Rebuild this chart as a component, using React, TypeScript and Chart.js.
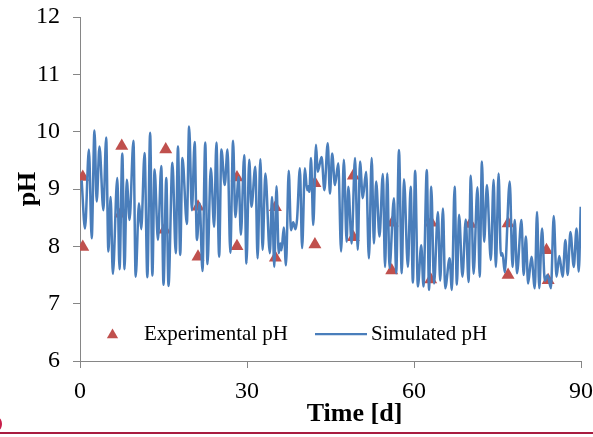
import React, { useEffect, useRef } from "react";
import { Chart, registerables } from "chart.js";

Chart.register(...registerables);

// Simulated pH (time in days, pH)
const simDays = [
  0.3, 0.9, 1.6, 2.1, 2.6, 3.0, 3.5, 4.2, 4.7, 5.1, 5.5, 5.9, 6.7, 7.1, 7.6, 8.0, 8.4, 8.9, 9.6, 10.0,
  10.6, 11.0, 11.6, 12.1, 12.6, 13.0, 13.4, 14.0, 14.6, 15.0, 15.5, 15.9, 16.6, 17.2, 17.6, 18.0, 18.4, 19.2, 19.6, 20.1,
  20.6, 21.0, 21.5, 22.0, 22.5, 22.9, 23.5, 24.1, 24.5, 25.0, 25.4, 26.0, 26.5, 27.0, 27.5, 27.9, 28.5, 28.9, 29.5, 29.9,
  30.4, 30.8, 31.5, 31.9, 32.4, 32.8, 33.3, 34.1, 34.5, 34.9, 35.3, 35.7, 36.0, 36.2, 36.6, 37.0, 37.5, 37.9, 38.3, 38.7,
  39.0, 39.5, 39.9, 40.4, 40.8, 41.0, 41.2, 41.5, 41.9, 42.4, 42.7, 43.4, 43.9, 44.5, 44.9, 45.3, 45.8, 46.4, 46.9, 47.4,
  47.9, 48.2, 48.8, 49.4, 49.9, 50.3, 50.8, 51.4, 51.9, 52.4, 52.8, 53.2, 53.8, 54.4, 54.8, 55.2, 55.6, 56.4, 56.8, 57.3,
  57.8, 58.2, 58.9, 59.4, 59.8, 60.2, 60.7, 61.3, 61.7, 62.3, 62.7, 63.1, 63.6, 64.3, 64.7, 65.2, 65.6, 66.4, 66.8, 67.3,
  67.7, 68.1, 68.7, 69.3, 69.8, 70.2, 70.7, 71.4, 71.8, 72.2, 72.6, 73.1, 73.8, 74.3, 74.7, 75.2, 75.6, 75.9, 76.3, 77.2,
  77.7, 78.1, 78.5, 79.3, 79.7, 80.1, 80.5, 81.1, 81.7, 82.1, 82.5, 83.0, 83.5, 84.0, 84.6, 85.1, 85.6, 86.1, 86.7, 87.2,
  87.6, 88.1, 88.7, 89.2, 89.6, 89.95,
];
const simPH = [
  9.15, 8.31, 9.69, 8.14, 10.02, 8.78, 9.74, 8.63, 9.9, 7.91, 8.86, 7.52, 9.19, 7.6, 9.62, 7.6, 9.16, 8.46, 9.84, 7.47,
  8.75, 8.3, 9.63, 7.46, 9.98, 7.49, 9.34, 8.11, 9.4, 7.33, 9.19, 7.31, 9.46, 7.88, 9.74, 7.85, 9.54, 8.39, 10.09, 8.63,
  9.82, 8.11, 8.75, 7.57, 9.81, 7.69, 9.36, 8.34, 9.81, 7.82, 9.69, 9.07, 9.69, 7.89, 9.84, 8.51, 9.21, 8.2, 9.59, 7.7,
  9.51, 8.69, 9.39, 7.79, 9.52, 7.94, 9.27, 7.88, 8.86, 7.64, 9.05, 7.88, 8.05, 7.93, 8.33, 7.67, 9.32, 8.28, 8.42, 8.3,
  8.48, 9.36, 7.97, 9.36, 8.98, 9.05, 8.95, 9.54, 8.37, 9.77, 9.3, 9.56, 8.98, 9.8, 8.92, 9.62, 9.07, 9.45, 7.91, 9.51,
  8.08, 9.04, 8.05, 9.54, 7.94, 9.48, 8.84, 9.3, 7.79, 9.54, 8.05, 9.13, 8.17, 9.26, 7.64, 9.27, 7.62, 8.84, 7.53, 9.68,
  7.53, 9.17, 7.64, 9.04, 7.37, 9.32, 7.3, 8.02, 7.3, 9.33, 7.24, 9.04, 7.35, 8.6, 7.4, 8.66, 7.27, 7.79, 7.24, 9.04,
  7.33, 8.55, 7.47, 8.47, 7.38, 9.23, 7.52, 9.03, 7.47, 9.48, 8.08, 9.07, 7.76, 9.16, 7.64, 9.27, 7.84, 7.88, 7.55, 9.13,
  7.64, 8.46, 7.53, 8.46, 7.5, 8.17, 7.35, 7.82, 7.27, 8.6, 7.27, 8.31, 7.4, 7.5, 7.27, 8.53, 7.47, 7.83, 7.47, 8.11,
  7.5, 8.25, 7.64, 8.31, 7.56, 8.69,
];

// Experimental pH
const expDays = [0.5, 0.5, 7.3, 7.5, 15.2, 15.4, 21.2, 21.2, 28.2, 28.2, 35.1, 35.1, 42.2, 42.2, 49.1, 49.1, 56.1, 56.0, 63.1, 63.0, 70.1, 76.9, 76.9, 83.8, 84.1];
const expPH = [9.21, 7.99, 8.57, 9.75, 8.29, 9.69, 8.69, 7.82, 9.2, 8.0, 8.68, 7.8, 9.1, 8.03, 9.23, 8.16, 8.41, 7.58, 8.41, 7.42, 8.39, 8.4, 7.5, 7.93, 7.41];

const xTicks = [0, 30, 60, 90];
const yTicks = [6, 7, 8, 9, 10, 11, 12];

const seriesLabels = ["Experimental pH", "Simulated pH"];
const xTitle = "Time [d]";
const yTitle = "pH";

const LINE_COLOR = "#4A7EBB";
const TRI_COLOR = "#C0504D";
const AXIS_COLOR = "#868686";
const FONT = "'Liberation Serif', 'Times New Roman', serif";

const zeroPad = (s: any) => {
  s.paddingTop = 0;
  s.paddingBottom = 0;
  s.paddingLeft = 0;
  s.paddingRight = 0;
};

const overlayPlugin = {
  id: "overlay",
  afterDatasetsDraw(chart: any) {
    const { ctx, chartArea } = chart;
    const { left, right, top, bottom } = chartArea;
    ctx.save();
    // legend inside chart area
    const ly = bottom - 27;
    const tx = left + 32.5;
    ctx.fillStyle = TRI_COLOR;
    ctx.beginPath();
    const r = 6.5;
    for (let i = 0; i < 3; i++) {
      const a = (i * 2 * Math.PI) / 3;
      const px = tx + Math.sin(a) * r;
      const py = ly + 1 - Math.cos(a) * r;
      if (i === 0) ctx.moveTo(px, py);
      else ctx.lineTo(px, py);
    }
    ctx.closePath();
    ctx.fill();
    ctx.fillStyle = "#000";
    ctx.font = `21px ${FONT}`;
    ctx.textBaseline = "middle";
    ctx.textAlign = "left";
    ctx.fillText(chart.data.datasets[1].label, left + 64, ly);
    ctx.strokeStyle = LINE_COLOR;
    ctx.lineWidth = 2.25;
    ctx.beginPath();
    ctx.moveTo(left + 235, ly);
    ctx.lineTo(left + 287, ly);
    ctx.stroke();
    ctx.fillText(chart.data.datasets[0].label, left + 291, ly);

    // axis titles
    ctx.font = `bold 26px ${FONT}`;
    ctx.textAlign = "center";
    ctx.fillText(xTitle, (left + right) / 2 + 24, bottom + 53);
    ctx.translate(28, (top + bottom) / 2);
    ctx.rotate(-Math.PI / 2);
    ctx.fillText(yTitle, 0, 0);
    ctx.restore();
  },
};

export default function App() {
  const ref = useRef<HTMLCanvasElement>(null);
  useEffect(() => {
    const canvas = ref.current;
    if (!canvas) return;
    const chart = new Chart(canvas, {
      type: "scatter",
      data: {
        datasets: [
          {
            label: seriesLabels[1],
            data: simDays.map((d, i) => ({ x: d, y: simPH[i] })),
            showLine: true,
            borderColor: LINE_COLOR,
            borderWidth: 2.5,
            pointRadius: 0,
            tension: 0.4,
            cubicInterpolationMode: "monotone",
            order: 0,
          } as any,
          {
            label: seriesLabels[0],
            data: expDays.map((d, i) => ({ x: d, y: expPH[i] })),
            pointStyle: "triangle",
            pointRadius: 7.5,
            backgroundColor: TRI_COLOR,
            borderColor: TRI_COLOR,
            borderWidth: 0,
            order: 1,
          } as any,
        ],
      },
      options: {
        responsive: false,
        animation: false,
        layout: { padding: { top: 17, right: 12, left: 0, bottom: 0 } },
        plugins: { legend: { display: false }, tooltip: { enabled: false } },
        scales: {
          x: {
            type: "linear",
            min: 0,
            max: 90,
            afterFit: (s: any) => {
              s.height = 76;
              zeroPad(s);
            },
            afterBuildTicks: (s: any) => {
              s.ticks = xTicks.map((v) => ({ value: v }));
            },
            ticks: { color: "#000", font: { family: FONT, size: 24 }, padding: 9, maxRotation: 0 },
            grid: { display: true, drawOnChartArea: false, drawTicks: true, tickLength: 7, color: AXIS_COLOR },
            border: { display: true, color: AXIS_COLOR, width: 1 },
          },
          y: {
            type: "linear",
            min: 6,
            max: 12,
            afterFit: (s: any) => {
              s.width = 80;
              zeroPad(s);
            },
            afterBuildTicks: (s: any) => {
              s.ticks = yTicks.map((v) => ({ value: v }));
            },
            ticks: { color: "#000", font: { family: FONT, size: 24 }, padding: 13 },
            grid: { display: true, drawOnChartArea: false, drawTicks: true, tickLength: 7, color: AXIS_COLOR },
            border: { display: true, color: AXIS_COLOR, width: 1 },
          },
        },
      },
      plugins: [overlayPlugin],
    });
    return () => chart.destroy();
  }, []);

  return (
    <div style={{ position: "fixed", left: 0, top: 0, width: 593, height: 437, background: "#fff", overflow: "hidden" }}>
      <canvas ref={ref} width={593} height={437} style={{ display: "block" }} />
      <div style={{ position: "absolute", left: 0, top: 432, width: 593, height: 1.5, background: "#A81C40" }} />
      <div style={{ position: "absolute", left: -5, top: 418, width: 7, height: 12, borderRadius: "50%", background: "#C81E4A" }} />
    </div>
  );
}
